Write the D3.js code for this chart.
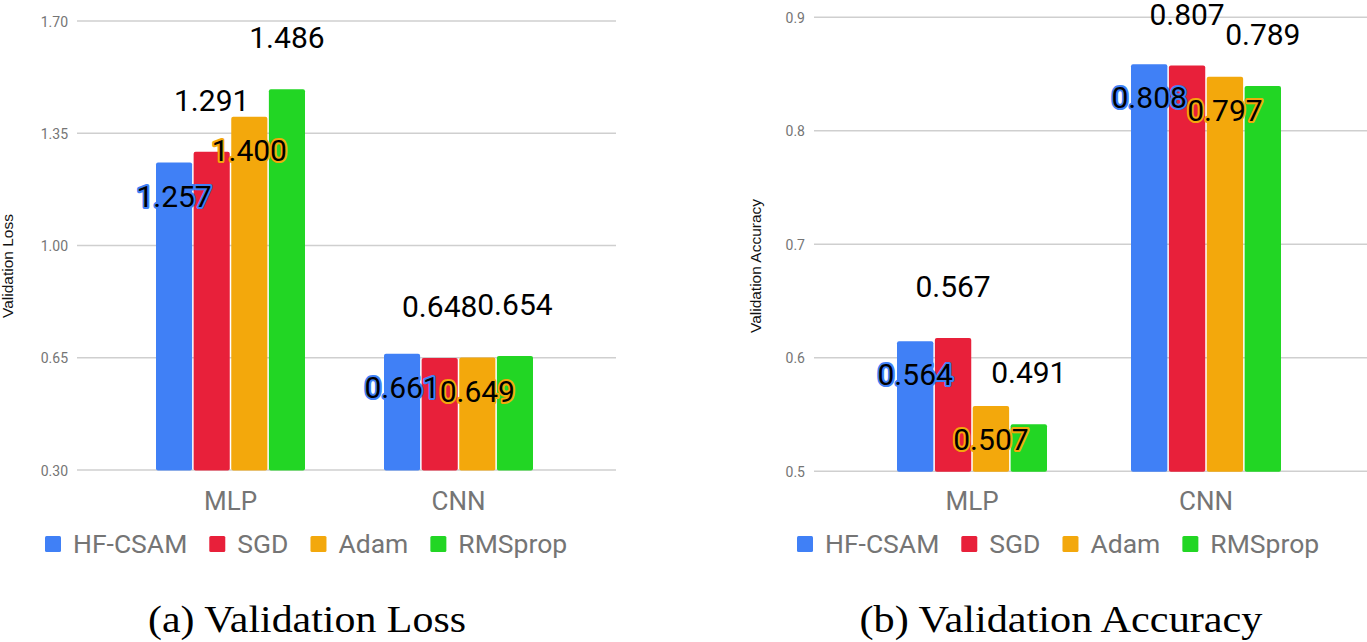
<!DOCTYPE html>
<html>
<head>
<meta charset="utf-8">
<script src="https://cdn.jsdelivr.net/npm/d3@7"></script>
<style>
  html, body { margin: 0; padding: 0; background: #fff; }
  svg { display: block; }
</style>
</head>
<body>
<svg id="chart" width="1367" height="642"></svg>
<script>
// ---------------- data ----------------
const categories = ["MLP", "CNN"];
const seriesNames = ["HF-CSAM", "SGD", "Adam", "RMSprop"];
const seriesColors = ["#4080F6", "#E8203A", "#F3A80C", "#22D624"];

// Validation loss, per series: [MLP, CNN]
const lossHFCSAM = [1.257, 0.661];
const lossSGD = [1.291, 0.648];
const lossAdam = [1.400, 0.649];
const lossRMSprop = [1.486, 0.654];
const lossTicks = [0.30, 0.65, 1.00, 1.35, 1.70];
const lossTickLabels = ["0.30", "0.65", "1.00", "1.35", "1.70"];

// Validation accuracy, per series: [MLP, CNN]
const accHFCSAM = [0.564, 0.808];
const accSGD = [0.567, 0.807];
const accAdam = [0.507, 0.797];
const accRMSprop = [0.491, 0.789];
// the axis in the original is drawn offset from the bar values
const accTicks = [0.45, 0.55, 0.65, 0.75, 0.85];
const accTickLabels = ["0.5", "0.6", "0.7", "0.8", "0.9"];

// ---------------- drawing ----------------
const svg = d3.select("#chart");
svg.append("rect").attr("width", 1367).attr("height", 642).attr("fill", "#fff");

function panel(cfg) {
  const g = svg.append("g");
  const y = d3.scaleLinear().domain(cfg.domain).range([cfg.yBottom, cfg.yTop]);
  const pi = (cfg.step - cfg.groupW) / cfg.step;
  const x0 = d3.scaleBand().domain(categories)
    .range([cfg.groupStart, cfg.groupStart + cfg.step + cfg.groupW])
    .paddingInner(pi).paddingOuter(0);
  const x1 = d3.scaleBand().domain(seriesNames)
    .range([0, x0.bandwidth()]).paddingInner(0.04).paddingOuter(0);

  // gridlines + tick labels via axis
  const axis = d3.axisLeft(y).tickValues(cfg.ticks)
    .tickSize(-(cfg.gridX1 - cfg.gridX0))
    .tickFormat((d, i) => cfg.tickLabels[i]);
  const ag = g.append("g").attr("transform", `translate(${cfg.gridX0},0)`).call(axis);
  ag.select(".domain").remove();
  ag.selectAll(".tick line").attr("stroke", "#cfcfcf").attr("stroke-width", 1.6);
  ag.selectAll(".tick text")
    .attr("x", -(cfg.gridX0 - cfg.tickLabelRight))
    .attr("dy", "0.4em")
    .attr("fill", "#757575")
    .style("font-family", "Roboto")
    .style("font-size", "14px");

  // bars
  const rows = [];
  cfg.series.forEach((vals, si) => {
    vals.forEach((v, ci) => rows.push({ si, ci, v }));
  });
  const bars = g.append("g");
  bars.selectAll("rect").data(rows).join("rect")
    .attr("x", d => x0(categories[d.ci]) + x1(seriesNames[d.si]))
    .attr("y", d => y(d.v))
    .attr("width", x1.bandwidth())
    .attr("height", d => y(cfg.domain[0]) - y(d.v) + 1)
    .attr("rx", 2)
    .attr("fill", d => seriesColors[d.si]);

  // data labels (even series inside with halo, odd series above)
  const labels = g.append("g");
  rows.slice().sort((a, b) => a.ci - b.ci || a.si - b.si).forEach(d => {
    const cx = x0(categories[d.ci]) + x1(seriesNames[d.si]) + x1.bandwidth() / 2;
    const inside = d.si % 2 === 0;
    const t = labels.append("text")
      .attr("x", cx)
      .attr("y", y(d.v) + (inside ? 44 : -41))
      .attr("text-anchor", "middle")
      .style("font-family", "Roboto")
      .style("font-size", "30px")
      .attr("fill", "#000")
      .text(d.v.toFixed(3));
    if (inside) {
      t.attr("stroke", seriesColors[d.si])
        .attr("stroke-width", 4)
        .attr("stroke-linejoin", "round")
        .attr("paint-order", "stroke");
    }
  });

  // category labels
  g.append("g").selectAll("text").data(categories).join("text")
    .attr("x", d => x0(d) + x0.bandwidth() / 2)
    .attr("y", 510)
    .attr("text-anchor", "middle")
    .attr("fill", "#757575")
    .style("font-family", "Roboto")
    .style("font-size", "26px")
    .text(d => d);

  // axis title
  g.append("text")
    .attr("transform", `translate(${cfg.titleX},266) rotate(-90)`)
    .attr("text-anchor", "middle")
    .attr("fill", "#111")
    .style("font-family", "Liberation Sans")
    .style("font-size", "15.5px")
    .text(cfg.yTitle);

  // legend
  const leg = g.append("g");
  let lx = cfg.legendX;
  seriesNames.forEach((name, i) => {
    leg.append("rect").attr("x", lx).attr("y", 536).attr("width", 16).attr("height", 16)
      .attr("rx", 1.5).attr("fill", seriesColors[i]);
    const t = leg.append("text").attr("x", lx + 28).attr("y", 553)
      .attr("fill", "#757575")
      .style("font-family", "Roboto").style("font-size", "26.5px").text(name);
    lx = lx + 28 + t.node().getComputedTextLength() + 22;
  });

  // caption
  g.append("text")
    .attr("x", cfg.captionX)
    .attr("y", 632)
    .attr("text-anchor", "middle")
    .attr("fill", "#000")
    .attr("textLength", cfg.captionW)
    .attr("lengthAdjust", "spacingAndGlyphs")
    .style("font-family", "Liberation Serif")
    .style("font-size", "37px")
    .text(cfg.caption);
}

panel({
  domain: [0.30, 1.70], yBottom: 469.5, yTop: 20.5,
  ticks: lossTicks, tickLabels: lossTickLabels,
  gridX0: 77, gridX1: 616, tickLabelRight: 68,
  groupStart: 156, step: 228, groupW: 149,
  series: [lossHFCSAM, lossSGD, lossAdam, lossRMSprop],
  yTitle: "Validation Loss", titleX: 13,
  legendX: 45,
  caption: "(a) Validation Loss", captionX: 307, captionW: 318
});

panel({
  domain: [0.45, 0.85], yBottom: 470.7, yTop: 16.7,
  ticks: accTicks, tickLabels: accTickLabels,
  gridX0: 814, gridX1: 1367, tickLabelRight: 805,
  groupStart: 897, step: 234, groupW: 150,
  series: [accHFCSAM, accSGD, accAdam, accRMSprop],
  yTitle: "Validation Accuracy", titleX: 761,
  legendX: 797,
  caption: "(b) Validation Accuracy", captionX: 1061, captionW: 403
});
</script>
</body>
</html>
